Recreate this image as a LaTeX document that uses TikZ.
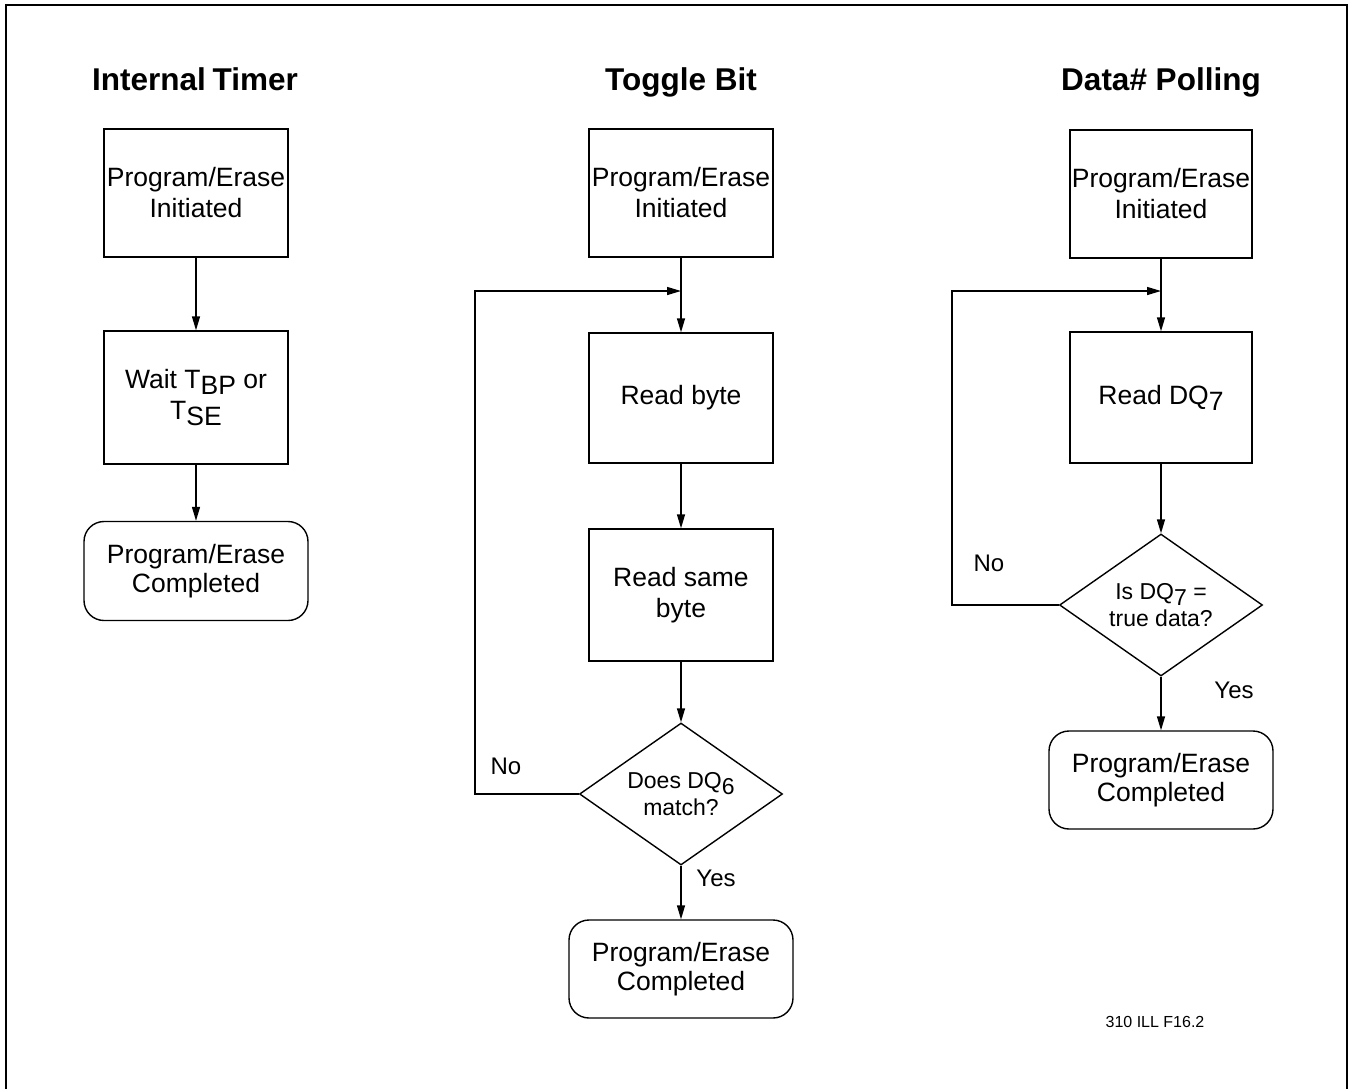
\documentclass[tikz,border=0pt]{standalone}
\usepackage{fontspec}
\setmainfont{Liberation Sans}
\usetikzlibrary{shapes.geometric,arrows.meta}
\newcommand{\lowr}[1]{\raisebox{-6pt}{#1}}
\begin{document}
\begin{tikzpicture}[x=1pt,y=-1pt,
  every node/.style={inner sep=0pt, align=center},
  lbl/.style={font=\fontsize{26.5}{31}\selectfont},
  ttl/.style={font=\fontsize{31.5}{36}\selectfont\bfseries, anchor=base},
  boxnode/.style={draw, line width=1.4pt, lbl, minimum width=184pt},
  endnode/.style={draw, line width=1.4pt, rounded corners=20pt, font=\fontsize{26.5}{29}\selectfont, minimum width=224pt, minimum height=98pt},
  decnode/.style={draw, line width=1.4pt, diamond, aspect=1.43, minimum width=203pt, minimum height=142pt, font=\fontsize{23}{27}\selectfont},
  small/.style={font=\fontsize{24}{28}\selectfont},
  conn/.style={line width=1.4pt},
  arr/.style={conn, -{Triangle[length=14pt,width=8pt]}}
]
\useasboundingbox (0,0) rectangle (1352,1088);
\draw[line width=1.5pt] (6,1090) -- (6,5) -- (1347,5) -- (1347,1090);

% Column 1
\node[ttl] (t1) at (195,90) {Internal\hspace{-2pt} Timer};
\node[boxnode, minimum height=128pt] (a1) at (196,193) {Program/Erase\\Initiated};
\node[boxnode, minimum height=133pt] (a2) at (196,397.5) {Wait T\lowr{BP} or\\T\lowr{SE}};
\node[endnode, minimum height=99pt] (a3) at (196,571) {Program/Erase\\Completed};
\draw[arr] (a1) -- (a2);
\draw[arr] (a2) -- (a3);

% Column 2
\node[ttl] (t2) at (681,90) {Toggle Bit};
\node[boxnode, minimum height=128pt] (b1) at (681,193) {Program/Erase\\Initiated};
\node[boxnode, minimum height=130pt] (b2) at (681,398) {Read byte};
\node[boxnode, minimum height=132pt] (b3) at (681,595) {Read same\\byte};
\node[decnode] (bd) at (681,794) {Does DQ\lowr{6}\\match?};
\node[endnode] (b4) at (681,969) {Program/Erase\\Completed};
\coordinate (bj) at (681,291);
\coordinate (bl) at (475,291);
\draw[arr] (b1) -- (b2);
\draw[arr] (b2) -- (b3);
\draw[arr] (b3) -- (bd);
\draw[arr] (bd) -- (b4);
\draw[arr] (bd.west) -- (bd.west -| bl) -- (bl) -- (bj);
\node[small] (bno) at (506,766) {No};
\node[small] (byes) at (716,878) {Yes};

% Column 3
\node[ttl] (t3) at (1161,90) {Data\# Polling};
\node[boxnode, minimum width=182pt, minimum height=128pt] (c1) at (1161,194) {Program/Erase\\Initiated};
\node[boxnode, minimum width=182pt, minimum height=131pt] (c2) at (1161,397.5) {Read DQ\lowr{7}};
\node[decnode] (cd) at (1161,605) {Is DQ\lowr{7} =\\true data?};
\node[endnode] (c3) at (1161,780) {Program/Erase\\Completed};
\coordinate (cj) at (1161,291);
\coordinate (cl) at (952,291);
\draw[arr] (c1) -- (c2);
\draw[arr] (c2) -- (cd);
\draw[arr] (cd) -- (c3);
\draw[arr] (cd.west) -- (cd.west -| cl) -- (cl) -- (cj);
\node[small] (cno) at (989,563) {No};
\node[small] (cyes) at (1234,690) {Yes};

\node[font=\fontsize{16}{19}\selectfont] (fig) at (1155,1022) {310 ILL F16.2};
\end{tikzpicture}
\end{document}
